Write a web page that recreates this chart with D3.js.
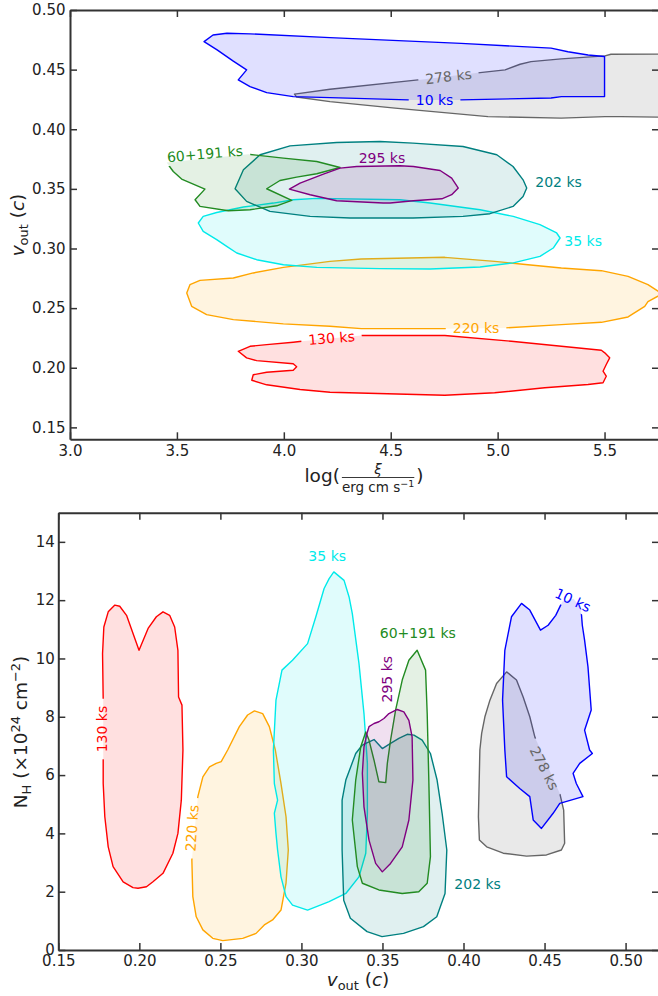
<!DOCTYPE html>
<html>
<head>
<meta charset="utf-8">
<script src="https://cdn.jsdelivr.net/npm/d3@7"></script>
<style>
  body { margin: 0; background: #fff; }
  svg { display: block; font-family: "DejaVu Sans", sans-serif; }
</style>
</head>
<body>
<svg id="fig" width="658" height="996"></svg>
<script>
// ---------------- data ----------------
const observations = ["10 ks", "278 ks", "60+191 ks", "202 ks", "295 ks", "35 ks", "220 ks", "130 ks"];
const seriesColors = ["#0000ff", "#666666", "#228b22", "#008080", "#800080", "#00eaea", "#ffa500", "#ff0000"];

const xiTicks = [3.0, 3.5, 4.0, 4.5, 5.0, 5.5];
const vTicksTop = [0.15, 0.20, 0.25, 0.30, 0.35, 0.40, 0.45, 0.50];
const vTicksBottom = [0.15, 0.20, 0.25, 0.30, 0.35, 0.40, 0.45, 0.50];
const nhTicks = [0, 2, 4, 6, 8, 10, 12, 14];

// 68% confidence contours in the (log xi, v_out) plane
const xiV_10ks = [[3.627,0.4735],[3.669,0.4790],[3.734,0.4805],[3.842,0.4800],[4.216,0.4768],[4.829,0.4720],[5.250,0.4680],[5.329,0.4650],[5.423,0.4623],[5.500,0.4610],[5.500,0.4274],[5.298,0.4274],[5.250,0.4262],[4.824,0.4246],[4.581,0.4246],[4.216,0.4265],[4.044,0.4274],[3.920,0.4307],[3.842,0.4358],[3.787,0.4414],[3.826,0.4498],[3.762,0.4573],[3.688,0.4665]];
const xiV_278ks = [[4.050,0.4295],[4.216,0.4336],[4.628,0.4414],[4.918,0.4475],[5.035,0.4498],[5.105,0.4545],[5.156,0.4567],[5.297,0.4590],[5.502,0.4615],[5.530,0.4629],[5.800,0.4630],[5.800,0.4100],[5.577,0.4106],[5.502,0.4106],[5.297,0.4093],[4.955,0.4106],[4.520,0.4177],[4.216,0.4232],[4.060,0.4270]];
const xiV_60p191ks = [[3.834,0.3790],[3.998,0.3758],[4.154,0.3730],[4.263,0.3679],[4.154,0.3627],[4.060,0.3599],[3.982,0.3570],[3.920,0.3501],[4.037,0.3403],[3.967,0.3358],[3.842,0.3325],[3.740,0.3317],[3.608,0.3353],[3.585,0.3409],[3.631,0.3498],[3.522,0.3582],[3.483,0.3646],[3.452,0.3721]];
const xiV_202ks = [[3.772,0.3501],[3.811,0.3660],[3.889,0.3786],[4.029,0.3861],[4.247,0.3889],[4.450,0.3897],[4.604,0.3884],[4.838,0.3855],[4.996,0.3786],[5.072,0.3688],[5.119,0.3576],[5.136,0.3507],[5.119,0.3436],[5.072,0.3353],[4.964,0.3292],[4.838,0.3269],[4.604,0.3256],[4.310,0.3256],[4.123,0.3269],[3.935,0.3311],[3.826,0.3395]];
const xiV_295ks = [[4.026,0.3498],[4.076,0.3549],[4.185,0.3624],[4.263,0.3674],[4.341,0.3688],[4.543,0.3694],[4.606,0.3688],[4.731,0.3654],[4.785,0.3590],[4.816,0.3507],[4.785,0.3451],[4.739,0.3417],[4.606,0.3400],[4.497,0.3381],[4.465,0.3381],[4.247,0.3400],[4.123,0.3451]];
const xiV_35ks = [[3.600,0.3214],[3.623,0.3269],[3.686,0.3302],[3.811,0.3348],[3.951,0.3381],[4.044,0.3409],[4.154,0.3420],[4.543,0.3409],[4.684,0.3381],[4.918,0.3325],[5.073,0.3269],[5.198,0.3200],[5.276,0.3130],[5.292,0.3088],[5.260,0.3004],[5.198,0.2934],[5.073,0.2879],[4.918,0.2845],[4.684,0.2828],[4.450,0.2831],[4.154,0.2842],[3.998,0.2864],[3.873,0.2906],[3.780,0.2962],[3.733,0.3018],[3.686,0.3074],[3.623,0.3143]];
const xiV_220ks = [[3.546,0.2627],[3.561,0.2697],[3.608,0.2733],[3.764,0.2753],[3.857,0.2795],[3.998,0.2842],[4.216,0.2892],[4.362,0.2912],[4.753,0.2926],[4.986,0.2892],[5.142,0.2864],[5.298,0.2837],[5.485,0.2814],[5.610,0.2766],[5.703,0.2697],[5.770,0.2620],[5.703,0.2555],[5.688,0.2515],[5.610,0.2426],[5.485,0.2381],[5.298,0.2362],[5.033,0.2334],[4.753,0.2328],[4.362,0.2328],[4.216,0.2348],[3.998,0.2368],[3.764,0.2404],[3.639,0.2446],[3.569,0.2515]];
const xiV_130ks = [[4.362,0.2270],[4.753,0.2270],[5.064,0.2222],[5.298,0.2180],[5.485,0.2147],[5.501,0.2125],[5.524,0.2083],[5.508,0.2027],[5.493,0.1971],[5.508,0.1929],[5.493,0.1874],[5.423,0.1859],[5.220,0.1832],[4.986,0.1790],[4.753,0.1770],[4.216,0.1795],[4.076,0.1818],[3.920,0.1857],[3.850,0.1895],[3.857,0.1941],[3.920,0.1962],[4.044,0.1979],[4.060,0.2008],[4.044,0.2033],[3.873,0.2060],[3.826,0.2083],[3.787,0.2138],[3.842,0.2180],[3.920,0.2194],[4.044,0.2214],[4.084,0.2222]];

// 68% confidence contours in the (v_out, N_H) plane
const vNh_10ks = [[0.4733,11.14],[0.4747,10.63],[0.4768,9.71],[0.4788,8.23],[0.4747,7.54],[0.4778,6.86],[0.4795,6.74],[0.4717,6.40],[0.4676,6.06],[0.4696,5.71],[0.4737,5.26],[0.4594,5.03],[0.4553,4.69],[0.4481,4.17],[0.4430,4.46],[0.4409,5.26],[0.4347,5.54],[0.4266,5.94],[0.4255,6.86],[0.4241,8.57],[0.4255,10.28],[0.4296,11.43],[0.4358,11.89],[0.4409,11.66],[0.4475,10.97],[0.4522,11.14],[0.4569,11.48],[0.4610,11.95],[0.4680,12.05],[0.4725,11.70]];
const vNh_278ks = [[0.4594,5.37],[0.4618,4.80],[0.4624,3.66],[0.4604,3.43],[0.4512,3.26],[0.4389,3.22],[0.4245,3.32],[0.4143,3.54],[0.4098,3.77],[0.4092,4.57],[0.4101,6.86],[0.4112,7.43],[0.4132,8.00],[0.4163,8.57],[0.4204,9.14],[0.4266,9.54],[0.4327,9.26],[0.4368,8.68],[0.4409,8.00],[0.4440,7.31]];
const vNh_60p191ks = [[0.3714,10.28],[0.3766,9.60],[0.3776,8.11],[0.3786,5.83],[0.3796,3.20],[0.3776,2.29],[0.3724,2.00],[0.3622,1.94],[0.3478,2.06],[0.3376,2.29],[0.3345,2.86],[0.3314,4.46],[0.3335,5.83],[0.3366,6.97],[0.3397,7.48],[0.3417,7.20],[0.3448,6.51],[0.3478,5.77],[0.3520,5.74],[0.3530,6.40],[0.3550,7.20],[0.3581,8.23],[0.3622,9.26],[0.3663,9.94]];
const vNh_202ks = [[0.3397,7.09],[0.3448,7.22],[0.3499,6.91],[0.3550,7.09],[0.3601,7.26],[0.3653,7.40],[0.3694,7.37],[0.3745,7.20],[0.3796,6.74],[0.3837,5.83],[0.3868,4.69],[0.3897,3.43],[0.3886,1.94],[0.3835,1.14],[0.3753,0.80],[0.3630,0.57],[0.3497,0.46],[0.3405,0.63],[0.3302,1.09],[0.3261,1.71],[0.3251,3.43],[0.3251,5.14],[0.3274,5.83],[0.3304,6.28],[0.3335,6.74],[0.3376,7.03]];
const vNh_295ks = [[0.3417,7.66],[0.3448,7.77],[0.3478,7.83],[0.3509,7.94],[0.3540,8.11],[0.3591,8.25],[0.3632,8.17],[0.3663,7.88],[0.3683,7.31],[0.3688,5.83],[0.3663,4.46],[0.3622,3.54],[0.3550,2.97],[0.3499,2.68],[0.3458,2.97],[0.3417,3.77],[0.3386,4.91],[0.3376,6.06],[0.3386,6.97],[0.3407,7.48]];
const vNh_35ks = [[0.2827,6.86],[0.2843,8.57],[0.2880,9.60],[0.2945,9.94],[0.3038,10.51],[0.3089,11.43],[0.3140,12.40],[0.3171,12.74],[0.3200,12.97],[0.3263,12.68],[0.3294,12.11],[0.3314,11.54],[0.3355,9.83],[0.3386,8.11],[0.3407,6.40],[0.3407,4.69],[0.3397,3.32],[0.3355,2.51],[0.3274,1.94],[0.3171,1.66],[0.3038,1.37],[0.2945,1.54],[0.2905,1.83],[0.2874,2.51],[0.2853,3.43],[0.2843,4.00],[0.2833,4.69],[0.2853,5.14],[0.2833,5.71]];
const vNh_220ks = [[0.2324,3.09],[0.2330,1.83],[0.2351,1.14],[0.2392,0.69],[0.2453,0.40],[0.2515,0.32],[0.2638,0.40],[0.2720,0.57],[0.2771,0.86],[0.2822,1.03],[0.2874,1.37],[0.2905,2.29],[0.2919,3.43],[0.2905,4.57],[0.2874,5.71],[0.2839,6.86],[0.2802,7.66],[0.2761,8.11],[0.2710,8.20],[0.2668,8.06],[0.2617,7.66],[0.2545,6.86],[0.2505,6.46],[0.2474,6.40],[0.2433,6.28],[0.2392,5.94],[0.2361,5.26]];
const vNh_130ks = [[0.1777,8.60],[0.1773,10.17],[0.1781,11.08],[0.1808,11.60],[0.1849,11.83],[0.1879,11.79],[0.1921,11.48],[0.1998,10.28],[0.2054,11.03],[0.2105,11.43],[0.2146,11.60],[0.2187,11.48],[0.2218,11.08],[0.2238,10.28],[0.2242,8.68],[0.2263,8.40],[0.2269,6.86],[0.2259,5.14],[0.2238,4.00],[0.2207,3.32],[0.2146,2.63],[0.2084,2.34],[0.2044,2.17],[0.1992,2.12],[0.1961,2.14],[0.1900,2.34],[0.1838,2.86],[0.1808,3.54],[0.1787,4.57],[0.1777,5.71],[0.1777,6.51]];

// contour labels: [observation, x, y, angle in degrees, drawn in-line (line broken underneath)]
const xiVLabels = [
  ["278 ks", 4.770, 0.4443, -6.7, true],
  ["10 ks", 4.705, 0.4246, 0, true],
  ["60+191 ks", 3.631, 0.3794, -5, true],
  ["295 ks", 4.459, 0.3761, 0, false],
  ["202 ks", 5.285, 0.3555, 0, false],
  ["35 ks", 5.400, 0.3065, 0, false],
  ["220 ks", 4.899, 0.2333, 0, true],
  ["130 ks", 4.223, 0.2249, -5, true]
];
const vNhLabels = [
  ["130 ks", 0.1769, 7.58, -90, true],
  ["220 ks", 0.2325, 4.18, -86, true],
  ["35 ks", 0.3159, 13.51, 0, false],
  ["60+191 ks", 0.3718, 10.88, 0, false],
  ["295 ks", 0.3525, 9.29, -90, false],
  ["202 ks", 0.4087, 2.26, 0, false],
  ["278 ks", 0.4499, 6.24, 63, true],
  ["10 ks", 0.4675, 12.00, 25, true]
];

// ---------------- drawing ----------------
const svg = d3.select("#fig");
const defs = svg.append("defs");
const color = d3.scaleOrdinal(observations, seriesColors);
const AXIS = "#333333";
const TEXT = "#222222";

function drawPanel(p) {
  const x = d3.scaleLinear(p.xDomain, [p.left, p.right]);
  const y = d3.scaleLinear(p.yDomain, [p.bottom, p.top]);

  defs.append("clipPath").attr("id", p.id + "-clip")
    .append("rect").attr("x", p.left).attr("y", p.top)
    .attr("width", p.right - p.left).attr("height", p.bottom - p.top);

  const g = svg.append("g").attr("clip-path", `url(#${p.id}-clip)`);
  const line = d3.line().x(d => x(d[0])).y(d => y(d[1])).curve(d3.curveLinearClosed);

  // label geometry (needed for masks that break the lines under in-line labels)
  const labelLayer = svg.append("g");
  const labels = p.labels.map(([name, lx, ly, ang, inline]) => {
    const t = labelLayer.append("text")
      .attr("font-size", 14).attr("fill", color(name))
      .attr("text-anchor", "middle").attr("dy", "0.36em")
      .attr("transform", `translate(${x(lx)},${y(ly)}) rotate(${ang})`)
      .text(name);
    return { name, px: x(lx), py: y(ly), ang, inline, w: t.node().getComputedTextLength() };
  });

  p.contours.forEach(([name, pts]) => {
    const c = color(name);
    const gaps = labels.filter(l => l.inline && l.name === name);
    let maskId = null;
    if (gaps.length) {
      maskId = `${p.id}-mask-${observations.indexOf(name)}`;
      const m = defs.append("mask").attr("id", maskId).attr("maskUnits", "userSpaceOnUse")
        .attr("x", 0).attr("y", 0).attr("width", 658).attr("height", 996);
      m.append("rect").attr("x", 0).attr("y", 0).attr("width", 658).attr("height", 996).attr("fill", "#fff");
      gaps.forEach(l => {
        m.append("rect")
          .attr("x", -(l.w / 2 + 7)).attr("y", -9)
          .attr("width", l.w + 14).attr("height", 18)
          .attr("transform", `translate(${l.px},${l.py}) rotate(${l.ang})`)
          .attr("fill", "#000");
      });
    }
    g.append("path").attr("d", line(pts))
      .attr("fill", c).attr("fill-opacity", name === "278 ks" ? 0.14 : 0.12)
      .attr("stroke", "none");
    g.append("path").attr("d", line(pts))
      .attr("fill", "none").attr("stroke", c).attr("stroke-width", 1.4)
      .attr("stroke-linejoin", "round")
      .attr("mask", maskId ? `url(#${maskId})` : null);
  });
  labelLayer.raise();

  // axes: ticks point into the plot on all four sides
  const styleAxis = sel => {
    sel.attr("font-family", null).attr("font-size", 15);
    sel.select(".domain").attr("stroke", AXIS).attr("stroke-width", 2);
    sel.selectAll(".tick line").attr("stroke", AXIS).attr("stroke-width", 1.5);
    sel.selectAll(".tick text").attr("fill", TEXT);
  };
  svg.append("g").attr("transform", `translate(0,${p.bottom})`)
    .call(d3.axisBottom(x).tickValues(p.xTicks).tickFormat(d3.format(p.xFmt))
      .tickSizeInner(-7).tickSizeOuter(0).tickPadding(p.xPad))
    .call(styleAxis);
  svg.append("g").attr("transform", `translate(0,${p.top})`)
    .call(d3.axisTop(x).tickValues(p.xTicks).tickFormat("")
      .tickSizeInner(-7).tickSizeOuter(0))
    .call(styleAxis);
  svg.append("g").attr("transform", `translate(${p.left},0)`)
    .call(d3.axisLeft(y).tickValues(p.yTicks).tickFormat(d3.format(p.yFmt))
      .tickSizeInner(-7).tickSizeOuter(0).tickPadding(p.yPad))
    .call(styleAxis);
  svg.append("g").attr("transform", `translate(${p.right + 1},0)`)
    .call(d3.axisRight(y).tickValues(p.yTicks).tickFormat("")
      .tickSizeInner(-7).tickSizeOuter(0))
    .call(styleAxis);
  return { x, y };
}

drawPanel({
  id: "xiv", left: 70, right: 658, top: 10, bottom: 439.3,
  xDomain: [3.0, 5.75], yDomain: [0.14, 0.50],
  xTicks: xiTicks, yTicks: vTicksTop, xFmt: ".1f", yFmt: ".2f", xPad: 6, yPad: 4.5,
  contours: [["278 ks", xiV_278ks], ["10 ks", xiV_10ks], ["220 ks", xiV_220ks], ["130 ks", xiV_130ks],
             ["35 ks", xiV_35ks], ["202 ks", xiV_202ks], ["60+191 ks", xiV_60p191ks], ["295 ks", xiV_295ks]],
  labels: xiVLabels
});

drawPanel({
  id: "vnh", left: 58.3, right: 658, top: 512.7, bottom: 950,
  xDomain: [0.15, 0.52], yDomain: [0, 15],
  xTicks: vTicksBottom, yTicks: nhTicks, xFmt: ".2f", yFmt: "d", xPad: 5.5, yPad: 3.5,
  contours: [["130 ks", vNh_130ks], ["220 ks", vNh_220ks], ["35 ks", vNh_35ks], ["202 ks", vNh_202ks],
             ["60+191 ks", vNh_60p191ks], ["295 ks", vNh_295ks], ["278 ks", vNh_278ks], ["10 ks", vNh_10ks]],
  labels: vNhLabels
});

// ---------------- axis titles ----------------
const FS = 18.5;

// v_out (c): rotated for the upper panel, horizontal under the lower panel
function vOutLabel(sel) {
  sel.append("tspan").attr("font-style", "italic").text("v");
  sel.append("tspan").attr("font-size", FS * 0.7).attr("dy", 4).text("out");
  sel.append("tspan").attr("dy", -4).text(" (");
  sel.append("tspan").attr("font-style", "italic").text("c");
  sel.append("tspan").text(")");
}
svg.append("text").attr("font-size", FS).attr("fill", TEXT).attr("text-anchor", "middle")
  .attr("transform", "translate(24,225) rotate(-90)").call(vOutLabel);
svg.append("text").attr("font-size", FS).attr("fill", TEXT).attr("text-anchor", "middle")
  .attr("transform", "translate(358,986)").call(vOutLabel);

// N_H (x10^24 cm^-2), rotated, for the lower panel
const nh = svg.append("text").attr("font-size", FS).attr("fill", TEXT).attr("text-anchor", "middle")
  .attr("transform", "translate(27,732) rotate(-90)");
nh.append("tspan").text("N");
nh.append("tspan").attr("font-size", FS * 0.7).attr("dy", 4).text("H");
nh.append("tspan").attr("dy", -4).text(" (\u00d710");
nh.append("tspan").attr("font-size", FS * 0.7).attr("dy", -7).text("24");
nh.append("tspan").attr("dy", 7).text(" cm");
nh.append("tspan").attr("font-size", FS * 0.7).attr("dy", -7).text("\u22122");
nh.append("tspan").attr("dy", 7).text(")");

// log( xi / erg cm s^-1 ) for the upper panel
const xl = svg.append("g").attr("fill", TEXT);
const tLog = xl.append("text").attr("font-size", FS).text("log(");
const wLog = tLog.node().getComputedTextLength();
const tDen = xl.append("text").attr("font-size", 13.5);
tDen.append("tspan").text("erg cm s");
tDen.append("tspan").attr("font-size", 9.5).attr("dy", -5).text("\u22121");
const wDen = tDen.node().getComputedTextLength();
const tClose = xl.append("text").attr("font-size", FS).text(")");
const wClose = tClose.node().getComputedTextLength();
const total = wLog + wDen + wClose + 4;
const x0 = 364 - total / 2;
tLog.attr("x", x0).attr("y", 482);
const fx = x0 + wLog + 2;
tDen.attr("x", fx).attr("y", 492);
xl.append("line").attr("x1", fx).attr("x2", fx + wDen).attr("y1", 477.5).attr("y2", 477.5)
  .attr("stroke", TEXT).attr("stroke-width", 0.9);
xl.append("text").attr("font-size", 13.5).attr("font-style", "italic").attr("text-anchor", "middle")
  .attr("x", fx + wDen / 2).attr("y", 474).text("\u03be");
tClose.attr("x", fx + wDen + 2).attr("y", 482);
</script>
</body>
</html>
